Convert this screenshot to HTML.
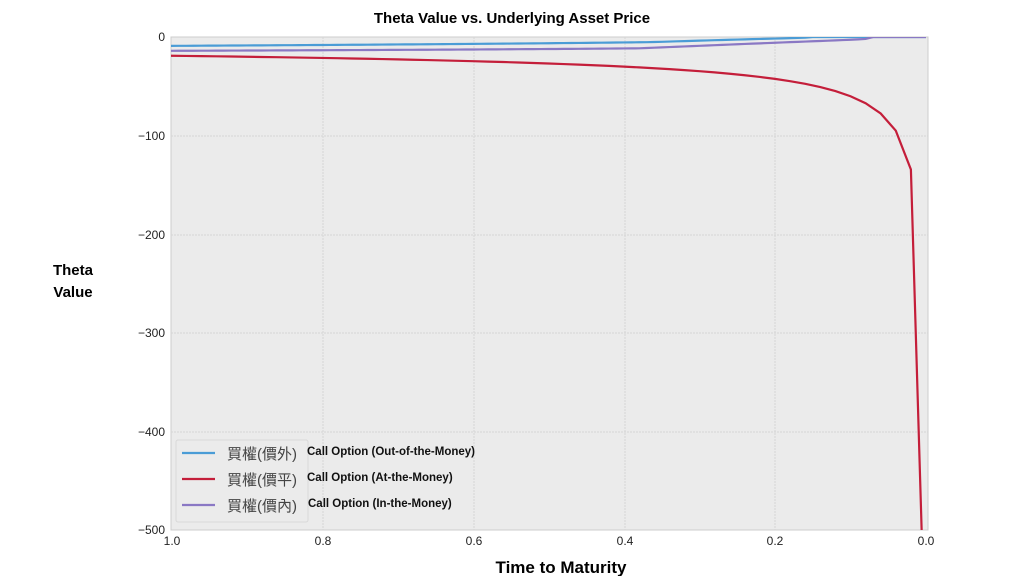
<!DOCTYPE html>
<html><head><meta charset="utf-8"><style>
body{margin:0;background:#fff;width:1024px;height:576px;overflow:hidden}
svg text{font-family:"Liberation Sans","Noto Sans CJK TC",sans-serif}
</style></head><body>
<svg id="s" width="1024" height="576" viewBox="0 0 1024 576">
<rect x="171" y="37" width="757" height="493" fill="#ebebeb" stroke="#cccccc"/>
<g stroke="#d6d6d6" stroke-width="1" stroke-dasharray="2,1">
<line x1="323" y1="37" x2="323" y2="530"/><line x1="474" y1="37" x2="474" y2="530"/>
<line x1="625" y1="37" x2="625" y2="530"/><line x1="775" y1="37" x2="775" y2="530"/>
<line x1="171" y1="136" x2="928" y2="136"/><line x1="171" y1="235" x2="928" y2="235"/>
<line x1="171" y1="333" x2="928" y2="333"/><line x1="171" y1="432" x2="928" y2="432"/>
</g>
<g font-size="12" fill="#222" text-anchor="end">
<text x="165" y="41">0</text><text x="165" y="140">−100</text><text x="165" y="239">−200</text>
<text x="165" y="337">−300</text><text x="165" y="436">−400</text><text x="165" y="534">−500</text>
</g>
<g font-size="12" fill="#222" text-anchor="middle">
<text x="172" y="545">1.0</text><text x="323" y="545">0.8</text><text x="474" y="545">0.6</text>
<text x="625" y="545">0.4</text><text x="775" y="545">0.2</text><text x="926" y="545">0.0</text>
</g>
<text x="512" y="23" font-size="15" font-weight="bold" text-anchor="middle">Theta Value vs. Underlying Asset Price</text>
<text x="561" y="573" font-size="17" font-weight="bold" text-anchor="middle">Time to Maturity</text>
<text x="73" y="275" font-size="15" font-weight="bold" text-anchor="middle">Theta</text>
<text x="73" y="297" font-size="15" font-weight="bold" text-anchor="middle">Value</text>
<clipPath id="c"><rect x="171" y="37" width="757" height="493"/></clipPath>
<g clip-path="url(#c)" fill="none" stroke-width="2.2">
<polyline id="otm" stroke="#4a9cd6"/>
<polyline id="itm" stroke="#8a78c4"/>
<polyline id="atm" stroke="#c41e3a"/>
</g>
<rect x="176" y="440" width="132" height="82" fill="#ebebeb" stroke="#d8d8d8" rx="2"/>
<line x1="182" y1="453" x2="215" y2="453" stroke="#4a9cd6" stroke-width="2.2"/>
<line x1="182" y1="479" x2="215" y2="479" stroke="#c41e3a" stroke-width="2.2"/>
<line x1="182" y1="505" x2="215" y2="505" stroke="#8a78c4" stroke-width="2.2"/>
<g font-size="15" fill="#444"><text x="227" y="459">買權(價外)</text><text x="227" y="485">買權(價平)</text><text x="227" y="511">買權(價內)</text></g>
<g font-size="11.5" font-weight="bold" fill="#111"><text x="307" y="455">Call Option (Out-of-the-Money)</text><text x="307" y="481">Call Option (At-the-Money)</text><text x="308" y="507">Call Option (In-the-Money)</text></g>
</svg>
<script>
function X(t){return 171+(1-t)*755}function Y(v){return 37-v*0.986}
var a=[],o=[],i=[];
for(var k=50;k>=1;k--){var t=k/50;
a.push(X(t)+','+Y(-19/Math.sqrt(t)));}
for(var k=100;k>=0;k--){var t=k/100;
var p=Math.max(0,(t-0.15)/0.85), q=Math.max(0,(t-0.07)/0.93);
o.push(X(t)+','+Y(-9*Math.pow(p,0.4)*(0.4+0.6*Math.min(1,p*4))));
i.push(X(t)+','+Y(-14*Math.pow(q,0.18)*(0.3+0.7*Math.min(1,q*3))));}
a.push(X(0.005)+','+Y(-520));
document.getElementById('atm').setAttribute('points',a.join(' '));
document.getElementById('otm').setAttribute('points',o.join(' '));
document.getElementById('itm').setAttribute('points',i.join(' '));
</script>
</body></html>
